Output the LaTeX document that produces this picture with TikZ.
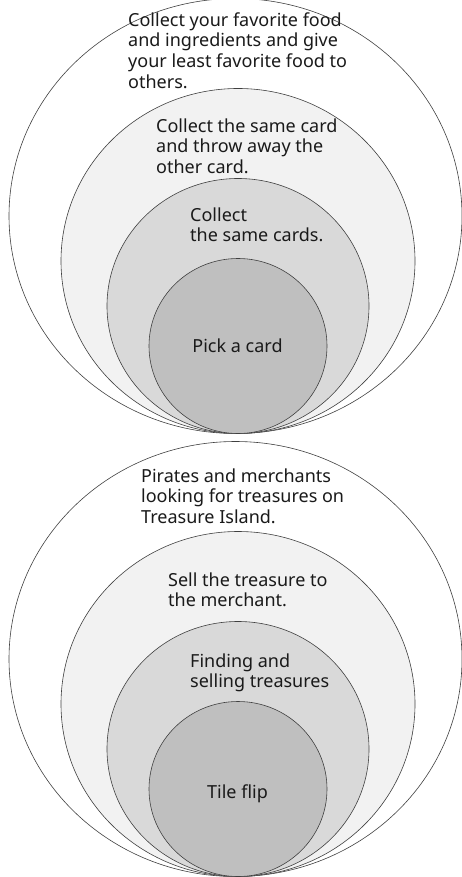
\documentclass[tikz,border=0pt]{standalone}
\usepackage{fontspec}
\setmainfont{Noto Sans}
\usepackage{tikz}
\usetikzlibrary{positioning, shapes.geometric}
\usepackage{xcolor}
\definecolor{ringline}{HTML}{404040}
\definecolor{ringtextcol}{HTML}{1A1A1A}
\definecolor{fillB}{HTML}{F2F2F2}
\definecolor{fillC}{HTML}{D9D9D9}
\definecolor{fillD}{HTML}{BFBFBF}
\tikzstyle{layer} = [ellipse, draw=ringline, line width=0.6pt, inner sep=0pt]
\tikzstyle{levelA} = [layer, fill=white, minimum width=453pt, minimum height=435pt]
\tikzstyle{levelB} = [layer, fill=fillB, minimum width=354pt, minimum height=345pt]
\tikzstyle{levelC} = [layer, fill=fillC, minimum width=262pt, minimum height=255pt]
\tikzstyle{levelD} = [layer, fill=fillD, minimum width=178pt, minimum height=175pt]
\tikzstyle{ringtext} = [align=left, anchor=north west, inner sep=0pt, text=ringtextcol, font=\fontsize{18}{20.7}\selectfont]
\tikzstyle{coretext} = [ringtext, anchor=base]

\begin{document}
\begin{tikzpicture}[x=1pt, y=-1pt]
    \useasboundingbox (0,0) rectangle (462,877);

        % Card game rings
        \node (cardA) [levelA] at (235.5,216) {};
        \node (cardB) [levelB] at (238,261) {};
        \node (cardC) [levelC] at (238,306) {};
        \node (cardD) [levelD] at (238,346) {};

        % Treasure game rings
        \node (isleA) [levelA] at (235.5,659) {};
        \node (isleB) [levelB] at (238,704) {};
        \node (isleC) [levelC] at (238,749) {};
        \node (isleD) [levelD] at (238,789) {};

        % Card game texts
        \node (cardAtext) [ringtext] at (128,12.3) {Collect your favorite food\\and ingredients and give\\your least favorite food to\\others.};
        \node (cardBtext) [ringtext] at (156,118.3) {Collect the same card\\and throw away the\\other card.};
        \node (cardCtext) [ringtext] at (190,207.3) {Collect\\the same cards.};
        \node (cardDtext) [coretext] at (237.5,352) {Pick a card};

        % Treasure game texts
        \node (isleAtext) [ringtext] at (141,468.3) {Pirates and merchants\\looking for treasures on\\Treasure Island.};
        \node (isleBtext) [ringtext] at (168,572.3) {Sell the treasure to\\the merchant.};
        \node (isleCtext) [ringtext] at (190,653.3) {Finding and\\selling treasures};
        \node (isleDtext) [coretext] at (237.5,798) {Tile flip};

    \end{tikzpicture}
\end{document}
